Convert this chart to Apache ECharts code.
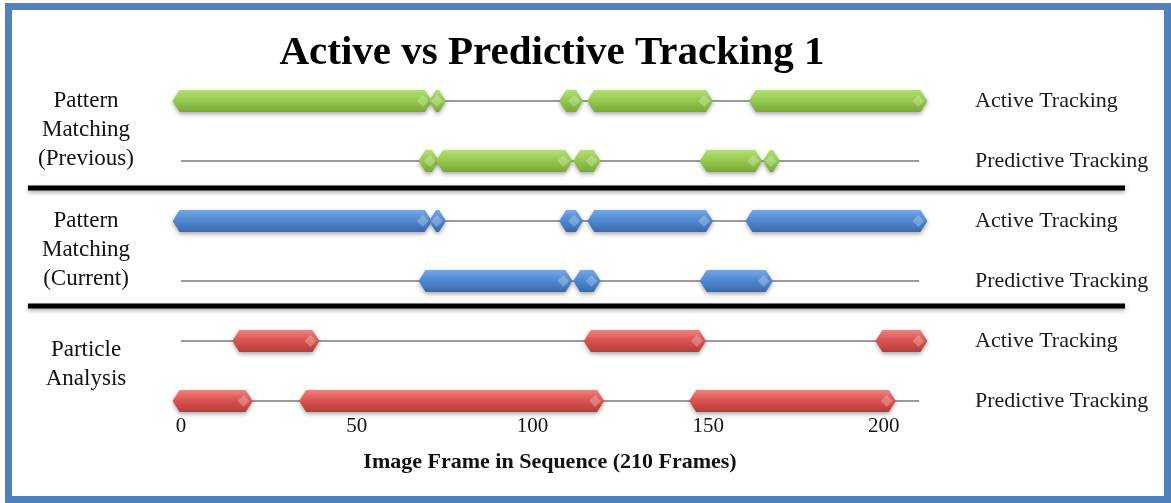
<!DOCTYPE html>
<html><head><meta charset="utf-8">
<script src="https://cdn.jsdelivr.net/npm/echarts@6/dist/echarts.min.js"></script>
<style>html,body{margin:0;padding:0;background:#fff}#c{width:1171px;height:503px}</style>
</head><body><div id="c"></div>
<script>
const titleText = 'Active vs Predictive Tracking 1';
const axisTitle = 'Image Frame in Sequence (210 Frames)';
const frameMin = 0, frameMax = 210, frameStep = 50;
const frameTicks = [0, 50, 100, 150, 200];
const rowLabels = ['Active Tracking','Predictive Tracking','Active Tracking','Predictive Tracking','Active Tracking','Predictive Tracking'];
const groupLabels = ['Pattern\nMatching\n(Previous)','Pattern\nMatching\n(Current)','Particle\nAnalysis'];
// tracked frame ranges [first, last] per row
const pmPrevActive     = [[0,69],[73,73],[110,112],[118,149],[164,210]];
const pmPrevPredictive = [[70,71],[75,109],[114,117],[150,163],[168,168]];
const pmCurActive      = [[0,69],[73,73],[110,112],[118,149],[163,210]];
const pmCurPredictive  = [[70,109],[114,117],[150,166]];
const paActive         = [[17,37],[117,147],[200,210]];
const paPredictive     = [[0,18],[36,118],[147,201]];

const rows = [pmPrevActive, pmPrevPredictive, pmCurActive, pmCurPredictive, paActive, paPredictive];
const palettes = [
  ['#b4dd78','#96ca50','#78a934'],
  ['#b4dd78','#96ca50','#78a934'],
  ['#78a6e4','#508ad2','#3b69ad'],
  ['#78a6e4','#508ad2','#3b69ad'],
  ['#ec8480','#da5552','#b93b37'],
  ['#ec8480','#da5552','#b93b37']
];
const serif = 'Liberation Serif, Times New Roman, DejaVu Serif, serif';

function segRender(pal){
  return function(params, api){
    const s = api.value(0), e = api.value(1), r = api.value(2);
    const p0 = api.coord([s - 0.4, r]), p1 = api.coord([e + 0.4, r]);
    const h = 11, hw = 7, y = p0[1];
    const x0 = p0[0], x1 = p1[0];
    return {
      type: 'group',
      children: [
        {type:'polygon', shape:{points:[[x0-hw,y],[x0,y-h],[x1,y-h],[x1+hw,y],[x1,y+h],[x0,y+h]]},
         style:{fill:{type:'linear',x:0,y:0,x2:0,y2:1,colorStops:[{offset:0,color:pal[0]},{offset:0.45,color:pal[1]},{offset:1,color:pal[2]}]},
                shadowBlur:4, shadowColor:'rgba(0,0,0,0.35)', shadowOffsetY:2}},
        {type:'polygon', shape:{points:[[x1-8,y],[x1-2,y-6],[x1+4,y],[x1-2,y+6]]},
         style:{fill:'rgba(255,255,255,0.25)'}}
      ]
    };
  };
}

const series = [{
  type:'custom', name:'baseline', z:1, silent:true,
  data: rowLabels.map((_, i) => [frameMin, frameMax, i]),
  renderItem: function(params, api){
    const p0 = api.coord([api.value(0), api.value(2)]);
    const p1 = api.coord([api.value(1), api.value(2)]);
    return {type:'line', shape:{x1:p0[0], y1:p0[1], x2:p1[0], y2:p1[1]}, style:{stroke:'#7a7a7a', lineWidth:1.3}};
  }
}];
rows.forEach((segs, i) => {
  series.push({
    type:'custom', name:rowLabels[i], z:2, silent:true,
    data: segs.map(sg => [sg[0], sg[1], i]),
    renderItem: segRender(palettes[i])
  });
});

const chart = echarts.init(document.getElementById('c'), null, {renderer:'canvas'});
chart.setOption({
  backgroundColor:'#ffffff',
  animation:false,
  textStyle:{fontFamily:serif},
  grid:{left:181, right:252, top:71, bottom:72},
  xAxis:{
    type:'value', min:frameMin, max:frameMax, interval:frameStep, offset:-20,
    axisLine:{show:false}, axisTick:{show:false}, splitLine:{show:false},
    axisLabel:{margin:5, showMaxLabel:false, fontFamily:serif, fontSize:21, color:'#111',
      formatter: v => frameTicks.includes(v) ? String(v) : ''},
    name: axisTitle, nameLocation:'middle', nameGap:40,
    nameTextStyle:{fontFamily:serif, fontWeight:'bold', fontSize:22, color:'#111'}
  },
  yAxis:{
    type:'category', inverse:true, position:'right',
    data: rowLabels.map((_, i) => String(i)),
    axisLine:{show:false}, axisTick:{show:false}, splitLine:{show:false},
    axisLabel:{margin:56, align:'left', fontFamily:serif, fontSize:22, color:'#1a1a1a',
      formatter: (v, i) => rowLabels[i]}
  },
  graphic:[
    {type:'rect', shape:{x:8.5, y:6.5, width:1159, height:493}, style:{fill:'none', stroke:'#4f81bd', lineWidth:7}, z:10},
    {type:'text', x:552, y:53, style:{text:titleText, fontFamily:serif, fontWeight:'bold', fontSize:41, fill:'#000', align:'center', verticalAlign:'middle'}},
    {type:'text', x:86, y:130, style:{text:groupLabels[0], fontFamily:serif, fontSize:23, lineHeight:29, fill:'#111', align:'center', verticalAlign:'middle'}},
    {type:'text', x:86, y:250, style:{text:groupLabels[1], fontFamily:serif, fontSize:23, lineHeight:29, fill:'#111', align:'center', verticalAlign:'middle'}},
    {type:'text', x:86, y:364, style:{text:groupLabels[2], fontFamily:serif, fontSize:23, lineHeight:29, fill:'#111', align:'center', verticalAlign:'middle'}},
    {type:'line', shape:{x1:28, y1:188, x2:1125, y2:188}, style:{stroke:'#000', lineWidth:5, shadowBlur:4, shadowColor:'rgba(0,0,0,0.35)', shadowOffsetY:2}},
    {type:'line', shape:{x1:28, y1:306, x2:1125, y2:306}, style:{stroke:'#000', lineWidth:5, shadowBlur:4, shadowColor:'rgba(0,0,0,0.35)', shadowOffsetY:2}}
  ],
  series: series
});
</script>
</body></html>
